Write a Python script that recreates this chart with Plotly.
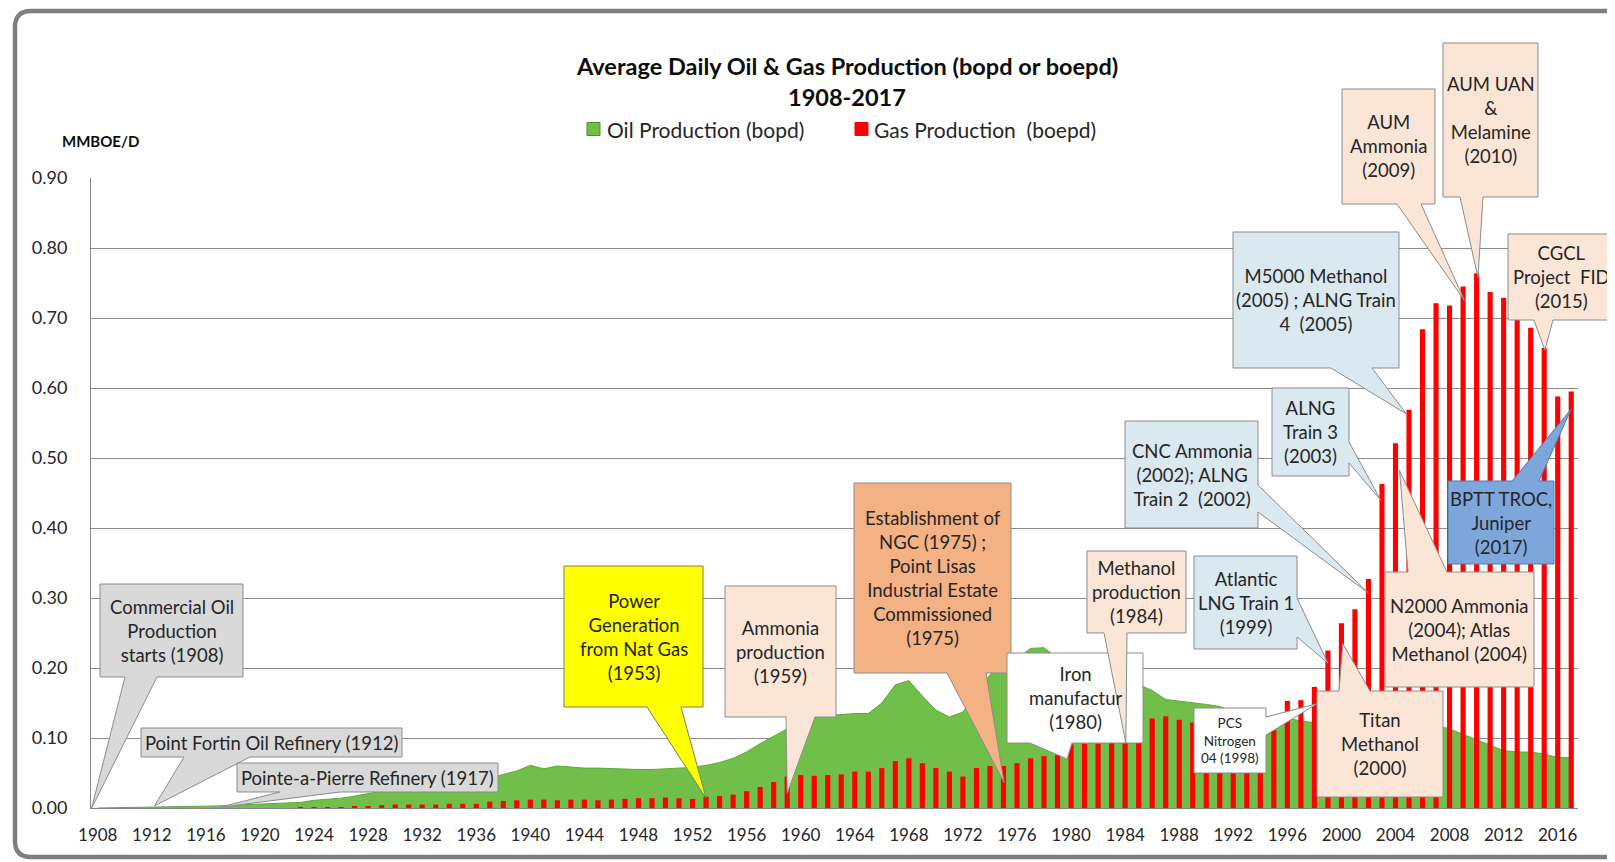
import plotly.graph_objects as go

# ---------------- data ----------------
years = list(range(1908, 2018))

oil_production = [
    0.0, 0.0003, 0.0005, 0.0008, 0.001, 0.0012, 0.0015, 0.002, 0.0025, 0.003,          # 1908-1917
    0.004, 0.005, 0.006, 0.0065, 0.007, 0.008, 0.011, 0.012, 0.014, 0.017,             # 1918-1927
    0.021, 0.024, 0.026, 0.027, 0.027, 0.028, 0.030, 0.033, 0.036, 0.043,              # 1928-1937
    0.048, 0.053, 0.061, 0.056, 0.060, 0.058, 0.057, 0.057, 0.056, 0.055,              # 1938-1947
    0.055, 0.055, 0.056, 0.057, 0.058, 0.061, 0.065, 0.071, 0.080, 0.092,              # 1948-1957
    0.103, 0.113, 0.120, 0.130, 0.132, 0.134, 0.135, 0.135, 0.150, 0.176,              # 1958-1967
    0.182, 0.160, 0.140, 0.130, 0.137, 0.166, 0.190, 0.210, 0.213, 0.228,              # 1968-1977
    0.229, 0.214, 0.212, 0.190, 0.177, 0.160, 0.172, 0.176, 0.168, 0.155,              # 1978-1987
    0.153, 0.151, 0.148, 0.145, 0.138, 0.124, 0.130, 0.131, 0.129, 0.124,              # 1988-1997
    0.122, 0.120, 0.120, 0.113, 0.131, 0.134, 0.123, 0.144, 0.145, 0.118,              # 1998-2007
    0.113, 0.105, 0.097, 0.089, 0.082, 0.080, 0.080, 0.077, 0.072, 0.072,              # 2008-2017
]

gas_production = [
    0, 0, 0, 0, 0, 0, 0, 0, 0, 0,                                                      # 1908-1917
    0, 0, 0, 0, 0, 0.001, 0.001, 0.001, 0.001, 0.0015,                                 # 1918-1927
    0.002, 0.004, 0.005, 0.005, 0.005, 0.005, 0.006, 0.006, 0.006, 0.009,              # 1928-1937
    0.010, 0.011, 0.012, 0.012, 0.011, 0.012, 0.012, 0.011, 0.012, 0.013,              # 1938-1947
    0.014, 0.014, 0.015, 0.014, 0.013, 0.016, 0.017, 0.019, 0.024, 0.030,              # 1948-1957
    0.037, 0.045, 0.047, 0.046, 0.047, 0.048, 0.052, 0.052, 0.057, 0.067,              # 1958-1967
    0.071, 0.064, 0.057, 0.052, 0.045, 0.057, 0.060, 0.060, 0.064, 0.071,              # 1968-1977
    0.074, 0.076, 0.091, 0.092, 0.092, 0.093, 0.094, 0.096, 0.128, 0.131,              # 1978-1987
    0.126, 0.122, 0.125, 0.128, 0.130, 0.126, 0.128, 0.111, 0.153, 0.154,              # 1988-1997
    0.173, 0.225, 0.264, 0.284, 0.327, 0.463, 0.521, 0.569, 0.684, 0.721,              # 1998-2007
    0.718, 0.745, 0.764, 0.737, 0.729, 0.699, 0.686, 0.657, 0.588, 0.595,              # 2008-2017
]

x_tick_years = list(range(1908, 2017, 4))
y_tick_values = [i / 10 for i in range(10)]

title_line1 = "Average Daily Oil & Gas Production (bopd or boepd)"
title_line2 = "1908-2017"
y_unit_label = "MMBOE/D"
oil_name = "Oil Production (bopd)"
gas_name = "Gas Production\u00a0 (boepd)"

# callout labels and the (year, value) each one points at
callout_texts = [
    "Commercial Oil<br>Production<br>starts (1908)",
    "Point Fortin Oil Refinery (1912)",
    "Pointe-a-Pierre Refinery (1917)",
    "Power<br>Generation<br>from Nat Gas<br>(1953)",
    "Ammonia<br>production<br>(1959)",
    "Establishment of<br>NGC (1975) ;<br>Point Lisas<br>Industrial Estate<br>Commissioned<br>(1975)",
    "Iron<br>manufactur<br>(1980)",
    "Methanol<br>production<br>(1984)",
    "Atlantic<br>LNG Train 1<br>(1999)",
    "PCS<br>Nitrogen<br>04 (1998)",
    "Titan<br>Methanol<br>(2000)",
    "CNC Ammonia<br>(2002); ALNG<br>Train 2\u00a0 (2002)",
    "ALNG<br>Train 3<br>(2003)",
    "M5000 Methanol<br>(2005) ; ALNG Train<br>4\u00a0 (2005)",
    "AUM<br>Ammonia<br>(2009)",
    "AUM UAN<br>&<br>Melamine<br>(2010)",
    "CGCL<br>Project\u00a0 FID<br>(2015)",
    "BPTT TROC,<br>Juniper<br>(2017)",
    "N2000 Ammonia<br>(2004); Atlas<br>Methanol (2004)",
]
callout_tip_years = [1907.55, 1912.2, 1917.0, 1953.0, 1959.0, 1975.05, 1979.7, 1984.05, 1999.0,
                     1998.2, 2000.1, 2002.0, 2002.9, 2004.8, 2009.1, 2010.1, 2015.05, 2017.0, 2004.3]
callout_tip_values = [0.0, 0.003, 0.001, 0.014, 0.021, 0.036, 0.07, 0.093, 0.207,
                      0.149, 0.235, 0.307, 0.44, 0.563, 0.725, 0.758, 0.654, 0.57, 0.482]

# ---------------- layout geometry ----------------
# The page adds an 8 px body margin, so the figure is made 8 px smaller and all
# positions below are given in page pixels.
OFF = 8
FIG_W, FIG_H = 1615 - OFF, 862 - OFF
PL, PR, PT, PB = 91, 1578, 178, 808          # plot area in page pixels
XMIN, XMAX = 1907.5, 2017.5
YMAX = 0.9

def pxx(x):
    return (x - PL) / (PR - PL)

def pxy(y):
    return (PB - y) / (PB - PT)

FONT = "Lato, 'Open Sans', sans-serif"
TXT = "#262626"
GRAY_FILL, GRAY_LINE = "#D9D9D9", "#8C8C8C"
PEACH, PEACH_LINE = "#FBE5D6", "#8C8C8C"
BLUE_L, BLUE_L_LINE = "#DAE8EF", "#8C8C8C"
GREEN, GREEN_EDGE = "#70BF48", "#5FA83C"
RED = "#FF0000"

# box (x0, y0, x1, y1), pointer (edge, base1, base2), fill, line colour, font size
CF = 18.5
callout_styles = [
    ((100, 584, 243, 677), ("bottom", 125, 157), GRAY_FILL, GRAY_LINE, CF),
    ((141, 728, 402, 757), ("bottom", 184, 250), GRAY_FILL, GRAY_LINE, CF),
    ((237, 763, 498, 792), ("bottom", 280, 340), GRAY_FILL, GRAY_LINE, CF),
    ((564, 566, 703, 707), ("bottom", 647, 681), "#FFFF00", "#7F7F60", CF),
    ((725, 586, 836, 717), ("bottom", 786, 815), PEACH, PEACH_LINE, CF),
    ((854, 483, 1011, 673), ("bottom", 947, 986), "#F4B183", PEACH_LINE, CF),
    ((1007, 653, 1143, 743), ("bottom", 1030, 1072), "#FFFFFF", GRAY_LINE, CF),
    ((1087, 551, 1186, 633), ("bottom", 1104, 1127), PEACH, PEACH_LINE, CF),
    ((1194, 556, 1297, 649), ("right", 598, 637), BLUE_L, BLUE_L_LINE, CF),
    ((1194, 708, 1266, 773), ("right", 717, 735), "#FFFFFF", GRAY_LINE, 13.5),
    ((1317, 691, 1443, 797), ("top", 1339, 1370), PEACH, PEACH_LINE, CF),
    ((1125, 421, 1258, 528), ("right", 485, 512), BLUE_L, BLUE_L_LINE, CF),
    ((1272, 388, 1349, 476), ("right", 442, 463), BLUE_L, BLUE_L_LINE, CF),
    ((1233, 232, 1399, 368), ("bottom", 1331, 1372), BLUE_L, BLUE_L_LINE, CF),
    ((1342, 89, 1435, 204), ("bottom", 1397, 1421), PEACH, PEACH_LINE, CF),
    ((1443, 43, 1538, 197), ("bottom", 1460, 1483), PEACH, PEACH_LINE, CF),
    ((1508, 234, 1614, 320), ("bottom", 1534, 1553), PEACH, PEACH_LINE, CF),
    ((1448, 481, 1554, 564), ("top", 1512, 1539), "#7DA6DB", "#4F7CB3", CF),
    ((1385, 572, 1534, 687), ("top", 1408, 1447), PEACH, PEACH_LINE, CF),
]

# ---------------- figure ----------------
fig = go.Figure()

fig.add_trace(go.Scatter(
    x=years, y=oil_production, mode="lines", fill="tozeroy",
    line=dict(color=GREEN_EDGE, width=1), fillcolor=GREEN,
    showlegend=False, name=oil_name,
))
# gas bars on an overlaying axis so that they are drawn in front of the oil area
fig.add_trace(go.Bar(
    x=years, y=gas_production, name=gas_name, width=0.38, yaxis="y2",
    marker=dict(color=RED, line=dict(width=0)), showlegend=False,
))

shapes = []
annotations = []

# outer rounded frame
fx0, fy0, fy1, rad = 15, 11, 857, 16
frame_pts = (
    f"M {pxx(1700):.5f},{pxy(fy0):.5f} L {pxx(fx0 + rad):.5f},{pxy(fy0):.5f} "
    f"Q {pxx(fx0):.5f},{pxy(fy0):.5f} {pxx(fx0):.5f},{pxy(fy0 + rad):.5f} "
    f"L {pxx(fx0):.5f},{pxy(fy1 - rad):.5f} "
    f"Q {pxx(fx0):.5f},{pxy(fy1):.5f} {pxx(fx0 + rad):.5f},{pxy(fy1):.5f} "
    f"L {pxx(1700):.5f},{pxy(fy1):.5f}"
)
shapes.append(dict(type="path", xref="paper", yref="paper", path=frame_pts,
                   line=dict(color="#7F7F7F", width=4.5), layer="above"))

for text, tyear, tval, style in zip(callout_texts, callout_tip_years, callout_tip_values, callout_styles):
    (x0, y0, x1, y1), (edge, b1, b2), fill, lcol, fsize = style
    tip = ((tyear - XMIN) / (XMAX - XMIN), tval / YMAX)
    TL, TR, BR, BL = (x0, y0), (x1, y0), (x1, y1), (x0, y1)
    if edge == "top":
        pts = [TL, (b1, y0), "tip", (b2, y0), TR, BR, BL]
    elif edge == "right":
        pts = [TL, TR, (x1, b1), "tip", (x1, b2), BR, BL]
    elif edge == "bottom":
        pts = [TL, TR, BR, (b2, y1), "tip", (b1, y1), BL]
    else:
        pts = [TL, TR, BR, BL, (x0, b2), "tip", (x0, b1)]
    coords = [tip if p == "tip" else (pxx(p[0]), pxy(p[1])) for p in pts]
    path = "M " + " L ".join(f"{a:.5f},{b:.5f}" for a, b in coords) + " Z"
    shapes.append(dict(type="path", xref="paper", yref="paper", path=path,
                       fillcolor=fill, line=dict(color=lcol, width=1), layer="above"))
    annotations.append(dict(
        x=pxx((x0 + x1) / 2), y=pxy((y0 + y1) / 2), xref="paper", yref="paper",
        text=text, showarrow=False, align="center", xanchor="center", yanchor="middle",
        font=dict(family=FONT, size=fsize, color=TXT),
    ))

# title & unit label
for line, ypos in ((title_line1, 66), (title_line2, 97)):
    annotations.append(dict(x=pxx(847), y=pxy(ypos), xref="paper", yref="paper", text=f"<b>{line}</b>",
                            showarrow=False, xanchor="center", yanchor="middle",
                            font=dict(family=FONT, size=23.5, color="#0D0D0D")))
annotations.append(dict(x=pxx(100), y=pxy(141), xref="paper", yref="paper", text=f"<b>{y_unit_label}</b>",
                        showarrow=False, xanchor="center", yanchor="middle",
                        font=dict(family=FONT, size=15, color="#0D0D0D")))

# legend (drawn as marker squares + text)
for name, color, edge, sq_x0, txt_x in ((oil_name, GREEN, "#4E8A30", 587, 605),
                                        (gas_name, RED, RED, 855, 872)):
    shapes.append(dict(type="rect", xref="paper", yref="paper",
                       x0=pxx(sq_x0), x1=pxx(sq_x0 + 13), y0=pxy(122.5), y1=pxy(135.5),
                       fillcolor=color, line=dict(color=edge, width=1), layer="above"))
    annotations.append(dict(x=pxx(txt_x), y=pxy(129), xref="paper", yref="paper", text=name,
                            showarrow=False, xanchor="left", yanchor="middle",
                            font=dict(family=FONT, size=21, color=TXT)))

fig.update_layout(
    width=FIG_W, height=FIG_H,
    margin=dict(l=PL - OFF, r=FIG_W - (PR - OFF), t=PT - OFF, b=FIG_H - (PB - OFF), pad=0),
    paper_bgcolor="white", plot_bgcolor="white",
    barmode="overlay",
    shapes=shapes, annotations=annotations,
    font=dict(family=FONT, color=TXT),
    showlegend=False,
    xaxis=dict(range=[XMIN, XMAX], tickmode="array", tickvals=x_tick_years,
               ticktext=[str(v) for v in x_tick_years], showgrid=False, zeroline=False,
               showline=True, linecolor="#868686", linewidth=1, ticks="",
               ticklabelstandoff=12, tickfont=dict(family=FONT, size=17, color=TXT)),
    yaxis=dict(range=[0, YMAX], tickmode="array", tickvals=y_tick_values,
               ticktext=[f"{v:.2f}" for v in y_tick_values], showgrid=True,
               gridcolor="#8C8C8C", gridwidth=1, zeroline=False,
               showline=True, linecolor="#868686", linewidth=1, ticks="",
               ticklabelstandoff=19, tickfont=dict(family=FONT, size=18, color=TXT)),
    yaxis2=dict(range=[0, YMAX], overlaying="y", visible=False),
)

fig.write_html("out.html")
